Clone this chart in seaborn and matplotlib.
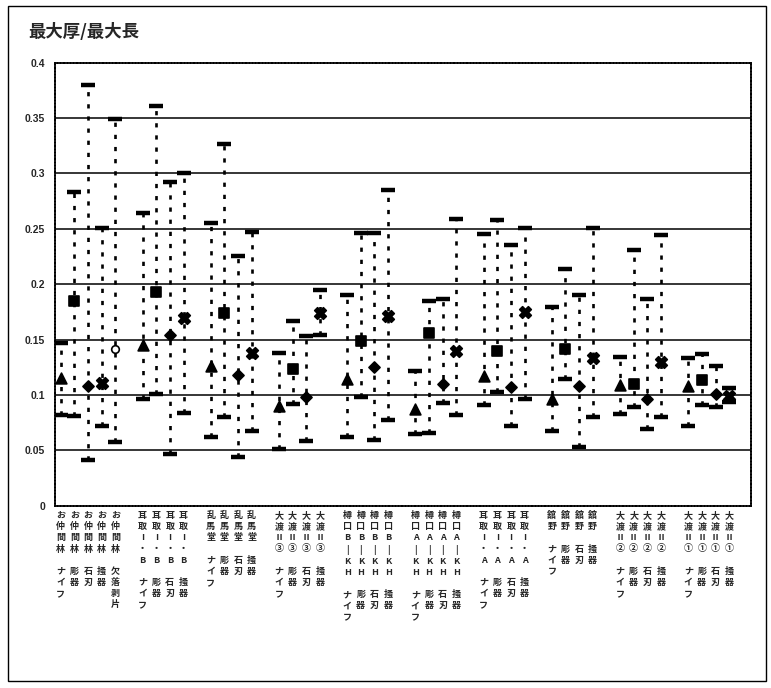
import matplotlib
matplotlib.use("Agg")
import matplotlib.pyplot as plt
import seaborn as sns
import pandas as pd
import numpy as np
from matplotlib.patches import Rectangle

# ---- data -------------------------------------------------------------
sites = ["お仲間林", "耳取Ⅰ・B", "乱馬堂", "大渡Ⅱ③", "樽口B-KH",
         "樽口A-KH", "耳取Ⅰ・A", "舘野", "大渡Ⅱ②", "大渡Ⅱ①"]
# vertical rendering of each site name (one glyph per row)
site_rows = [
    ["お", "仲", "間", "林"],
    ["耳", "取", "Ⅰ", "・", "B"],
    ["乱", "馬", "堂"],
    ["大", "渡", "Ⅱ", "③"],
    ["樽", "口", "B", "|", "K", "H"],
    ["樽", "口", "A", "|", "K", "H"],
    ["耳", "取", "Ⅰ", "・", "A"],
    ["舘", "野"],
    ["大", "渡", "Ⅱ", "②"],
    ["大", "渡", "Ⅱ", "①"],
]
tools_main = ["ナイフ", "彫器", "石刃", "掻器"]
tools_extra = ["欠落剥片"]
group_tools = [tools_main + tools_extra] + [tools_main] * 9

ratio_max = [0.147, 0.283, 0.380, 0.251, 0.349,
             0.264, 0.361, 0.292, 0.300,
             0.255, 0.327, 0.225, 0.247,
             0.138, 0.167, 0.153, 0.195,
             0.190, 0.246, 0.246, 0.285,
             0.122, 0.185, 0.187, 0.259,
             0.245, 0.258, 0.235, 0.251,
             0.179, 0.214, 0.190, 0.251,
             0.134, 0.231, 0.187, 0.244,
             0.133, 0.137, 0.126, 0.106]
ratio_mean = [0.115, 0.185, 0.108, 0.111, 0.141,
              0.145, 0.193, 0.154, 0.169,
              0.126, 0.174, 0.118, 0.138,
              0.090, 0.123, 0.098, 0.174,
              0.114, 0.149, 0.125, 0.171,
              0.087, 0.156, 0.110, 0.140,
              0.117, 0.140, 0.107, 0.175,
              0.096, 0.141, 0.108, 0.133,
              0.109, 0.110, 0.096, 0.130,
              0.108, 0.113, 0.101, 0.099]
ratio_min = [0.082, 0.081, 0.041, 0.072, 0.057,
             0.096, 0.101, 0.047, 0.084,
             0.062, 0.080, 0.044, 0.067,
             0.051, 0.092, 0.058, 0.154,
             0.062, 0.098, 0.059, 0.077,
             0.065, 0.066, 0.093, 0.082,
             0.091, 0.103, 0.072, 0.096,
             0.067, 0.114, 0.053, 0.080,
             0.083, 0.089, 0.069, 0.080,
             0.072, 0.091, 0.089, 0.094]

y_ticks = [0, 0.05, 0.1, 0.15, 0.2, 0.25, 0.3, 0.35, 0.4]
y_tick_labels = ["0", "0.05", "0.1", "0.15", "0.2", "0.25", "0.3", "0.35", "0.4"]
title = "最大厚/最大長"

# ---- table: one row per site/tool, one empty slot between sites -------
rows = []
slot = 0
for g, (site, tools) in enumerate(zip(sites, group_tools)):
    for t in tools:
        rows.append({"site": site, "group": g, "tool": t, "pos": slot})
        slot += 1
    slot += 1
df = pd.DataFrame(rows)
df["max"] = ratio_max
df["mean"] = ratio_mean
df["min"] = ratio_min
df["label"] = [
    "\n".join(site_rows[g] + [""] + list(t))
    for g, t in zip(df["group"], df["tool"])
]

# ---- style ------------------------------------------------------------
sns.set_theme(style="white")
plt.rcParams["font.family"] = ["Noto Sans CJK JP", "DejaVu Sans"]

W, H = 771, 688
fig = plt.figure(figsize=(W / 100, H / 100), dpi=100)
ax = fig.add_axes([55 / W, 1 - 505.6 / H, (751 - 55) / W, (505.6 - 62.7) / H])

# horizontal reference lines
for yv in y_ticks[1:-1]:
    ax.axhline(yv, color="black", lw=1.1, zorder=1)

# min–max range as a thick dotted line
ax.vlines(df["pos"], df["min"], df["max"], colors="black", lw=1.9,
          linestyles=(0, (1.6, 3.0)), zorder=2)

# caps at the min and max
for col in ["max", "min"]:
    sns.scatterplot(data=df, x="pos", y=col, marker="_", s=90,
                    linewidth=3.2, color="black", ax=ax, zorder=3,
                    legend=False)

# mean markers per tool type
marker_map = {"ナイフ": ("^", 60, "black"), "彫器": ("s", 45, "black"),
              "石刃": ("D", 32, "black"), "掻器": ("X", 70, "black"),
              "欠落剥片": ("o", 30, "white")}
for tool, (mk, size, face) in marker_map.items():
    sub = df[df["tool"] == tool]
    sns.scatterplot(data=sub, x="pos", y="mean", marker=mk, s=size,
                    color=face, edgecolor="black", linewidth=1.2,
                    ax=ax, zorder=4, legend=False)

# axes
ax.set_xlim(-0.42, slot - 1 + 0.6)
ax.set_ylim(0, 0.4)
ax.set_yticks(y_ticks)
ax.set_yticklabels(y_tick_labels, fontfamily="Liberation Sans",
                   fontweight="bold", fontsize=7.5)
ax.set_xticks(df["pos"])
ax.set_xticklabels(df["label"], fontsize=6.5, fontweight="bold",
                   linespacing=1.3, va="top")
ax.tick_params(axis="x", length=0, pad=4)
ax.tick_params(axis="y", length=0, pad=7)
ax.set_xlabel("")
ax.set_ylabel("")
for sp in ax.spines.values():
    sp.set_visible(True)
    sp.set_color("black")
    sp.set_linewidth(1.3)
    sp.set_linestyle((0, (1, 0.8)))

# title
fig.text(28 / W, 1 - 32 / H, title, fontsize=12.5, fontweight="bold",
         ha="left", va="center")

# outer chart frame
fig.add_artist(Rectangle((8 / W, 1 - 681 / H), (766 - 8) / W, (681 - 6) / H,
                         transform=fig.transFigure, fill=False,
                         edgecolor="black", lw=1.0))

fig.savefig("out.png", dpi=100)
